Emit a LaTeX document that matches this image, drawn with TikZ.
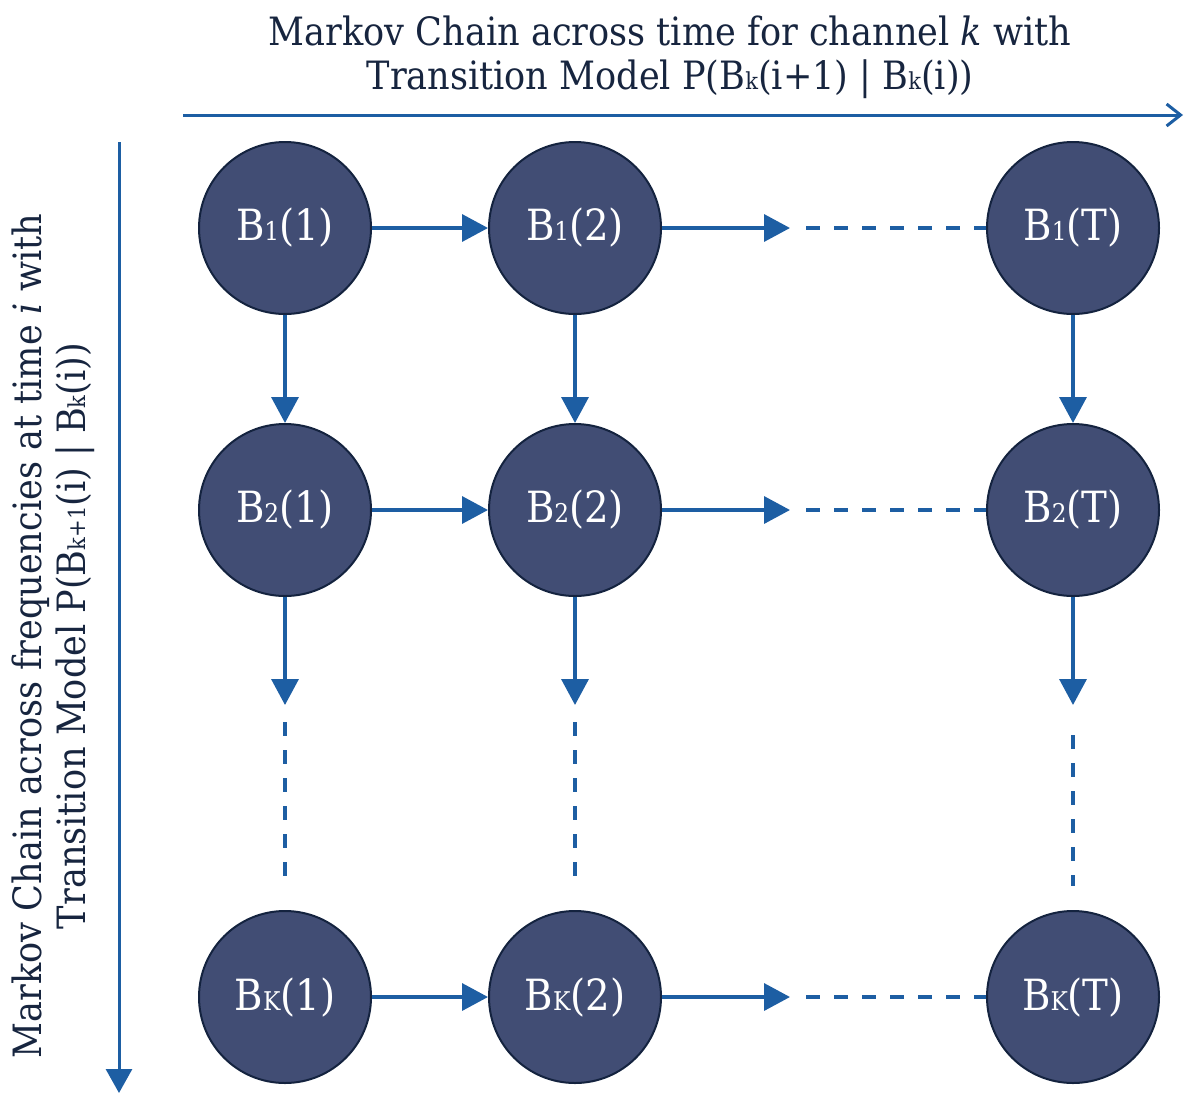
\documentclass[tikz,border=0pt]{standalone}
\usepackage{fontspec}
\setmainfont{DejaVu Serif Condensed}
\usetikzlibrary{arrows.meta}

\definecolor{chainblue}{HTML}{1D5EA3}
\definecolor{statefill}{HTML}{414D74}
\definecolor{stateedge}{HTML}{14233F}
\definecolor{titleink}{HTML}{17253F}

\newcommand{\ix}[1]{\scalebox{0.6}{#1}}

\tikzset{
  state/.style={circle, minimum size=172pt, inner sep=0pt, fill=statefill,
    draw=stateedge, line width=2pt, text=white, font=\fontsize{43}{46}\selectfont},
  link/.style={chainblue, line width=3.5pt, -{Triangle[length=26pt,width=27pt]}},
  dots/.style={chainblue, line width=3.5pt, dash pattern=on 14pt off 14pt},
  axis/.style={chainblue, line width=3pt},
  caption/.style={text=titleink, align=center, font=\fontsize{39}{44}\selectfont}
}

\begin{document}
\begin{tikzpicture}[x=1pt,y=-1pt]
        \useasboundingbox (0,0) rectangle (1191,1114);

        % states
        \node[state] (b11) at (285,228) {B\ix{1}(1)};
        \node[state] (b12) at (575,228) {B\ix{1}(2)};
        \node[state] (b1t) at (1073,228) {B\ix{1}(T)};
        \node[state] (b21) at (285,510) {B\ix{2}(1)};
        \node[state] (b22) at (575,510) {B\ix{2}(2)};
        \node[state] (b2t) at (1073,510) {B\ix{2}(T)};
        \node[state] (bk1) at (285,997) {B\ix{K}(1)};
        \node[state] (bk2) at (575,997) {B\ix{K}(2)};
        \node[state] (bkt) at (1073,997) {B\ix{K}(T)};

        % ends of the gaps
        \coordinate (h1) at (790,228);
        \coordinate (h2) at (790,510);
        \coordinate (hk) at (790,997);
        \coordinate (h1d) at (806,228);
        \coordinate (h2d) at (806,510);
        \coordinate (hkd) at (806,997);
        \coordinate (v1) at (285,705);
        \coordinate (v2) at (575,705);
        \coordinate (vt) at (1073,705);
        \coordinate (v1d) at (285,722);
        \coordinate (v2d) at (575,722);
        \coordinate (vtd) at (1073,735);

        % along time
        \draw[link] (b11) -- (b12);
        \draw[link] (b21) -- (b22);
        \draw[link] (bk1) -- (bk2);
        \draw[link] (b12) -- (h1);
        \draw[link] (b22) -- (h2);
        \draw[link] (bk2) -- (hk);
        \draw[dots] (h1d) -- (b1t);
        \draw[dots] (h2d) -- (b2t);
        \draw[dots] (hkd) -- (bkt);

        % along frequency
        \draw[link] (b11) -- (b21);
        \draw[link] (b12) -- (b22);
        \draw[link] (b1t) -- (b2t);
        \draw[link] (b21) -- (v1);
        \draw[link] (b22) -- (v2);
        \draw[link] (b2t) -- (vt);
        \draw[dots, shorten >=22pt] (v1d) -- (bk1);
        \draw[dots, shorten >=24pt] (v2d) -- (bk2);
        \draw[dots, shorten >=24pt] (vtd) -- (bkt);

        % axes
        \coordinate (ta) at (183,115);
        \coordinate (tb) at (1183,115);
        \coordinate (la) at (119,142);
        \coordinate (lb) at (119,1093);
        \draw[axis, -{Straight Barb[length=14pt,width=22pt]}] (ta) -- (tb);
        \draw[axis, -{Triangle[length=24pt,width=26pt]}] (la) -- (lb);

        \node[caption] (timetitle) at (670,57)
          {Markov Chain across time for channel \textit{k} with\\
           Transition Model P(B\ix{k}(i+1) | B\ix{k}(i))};
        \node[caption, rotate=90] (freqtitle) at (53,636)
          {Markov Chain across frequencies at time \textit{i} with\\
           Transition Model P(B\ix{k+1}(i) | B\ix{k}(i))};
    \end{tikzpicture}
\end{document}
